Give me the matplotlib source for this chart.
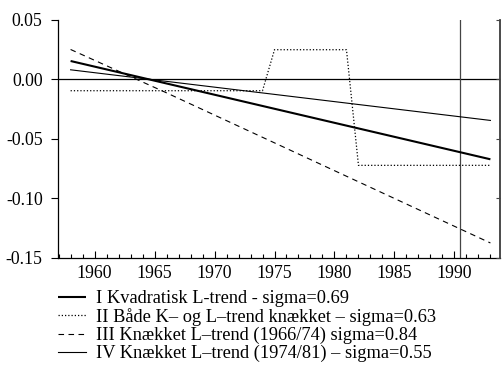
import matplotlib
matplotlib.use("Agg")
import matplotlib.pyplot as plt
from matplotlib.ticker import MultipleLocator, FixedLocator
import numpy as np

plt.rcParams['font.family'] = ['Liberation Serif', 'DejaVu Serif']

# Data
years_I = [1958, 1975, 1993]
vals_I = [0.0155, -0.0247, -0.0672]

years_II = list(range(1958, 1994))
vals_II = ([-0.0095] * (1975 - 1958)) + ([0.025] * (1982 - 1975)) + ([-0.0723] * (1994 - 1982))

years_III = [1958, 1966, 1974, 1993]
vals_III = [0.0252, -0.0113, -0.0487, -0.1376]

years_IV = [1958, 1993]
vals_IV = [0.0081, -0.0345]

labels = [
    "I Kvadratisk L-trend - sigma=0.69",
    "II Både K– og L–trend knækket – sigma=0.63",
    "III Knækket L–trend (1966/74) sigma=0.84",
    "IV Knækket L–trend (1974/81) – sigma=0.55",
]
vline_year = 1990.5
xticks_major = [1960, 1965, 1970, 1975, 1980, 1985, 1990]
yticks = [0.05, 0.00, -0.05, -0.10, -0.15]
ytick_labels = ["0.05", "0.00", "-0.05", "-0.10", "-0.15"]

W, H = 504, 367
fig = plt.figure(figsize=(W / 100, H / 100), dpi=100)
ax = fig.add_axes([58 / W, 1 - 257.7 / H, (500 - 58) / W, (257.7 - 20) / H])

h1, = ax.plot(years_I, vals_I, color='black', lw=1.5, solid_capstyle='butt')
h2, = ax.plot(years_II, vals_II, color='black', lw=0.9, linestyle=(0, (1, 1.6)))
h3, = ax.plot(years_III, vals_III, color='black', lw=0.8, linestyle=(0, (5, 4)))
h4, = ax.plot(years_IV, vals_IV, color='black', lw=0.8)

ax.axhline(0, color='black', lw=0.9, zorder=1)
ax.axvline(vline_year, color='#444444', lw=0.9, zorder=1)

ax.set_xlim(1956.95, 1993.8)
ax.set_ylim(-0.15, 0.05)

ax.xaxis.set_major_locator(FixedLocator(xticks_major))
ax.xaxis.set_minor_locator(MultipleLocator(1))
ax.set_yticks(yticks)
ax.set_yticklabels(ytick_labels)

ax.spines['top'].set_visible(False)
ax.spines['right'].set_color('#444444')
ax.spines['right'].set_linewidth(1.1)
ax.spines['left'].set_linewidth(0.9)
ax.spines['bottom'].set_linewidth(0.9)

ax.tick_params(axis='x', which='major', direction='in', length=5, width=0.8,
               labelsize=12.8, pad=5)
ax.tick_params(axis='x', which='minor', direction='in', length=3, width=0.8)
ax.tick_params(axis='y', which='major', direction='out', length=5, width=0.8,
               labelsize=12.8, pad=6)

# small inward ticks on the right-hand frame line
ax2 = ax.twinx()
ax2.set_ylim(ax.get_ylim())
ax2.set_yticks(yticks)
ax2.set_yticklabels([])
ax2.tick_params(axis='y', direction='in', length=3, width=0.8, color='#444444')
for s in ['top', 'left', 'bottom']:
    ax2.spines[s].set_visible(False)
ax2.spines['right'].set_color('#444444')
ax2.spines['right'].set_linewidth(1.1)

fig.legend([h1, h2, h3, h4], labels, loc='upper left',
           bbox_to_anchor=(58 / W, 1 - 290 / H), frameon=False,
           fontsize=13.2, handlelength=1.5, handletextpad=0.55,
           labelspacing=0.05, borderpad=0, borderaxespad=0)

fig.savefig("out.png", dpi=100)
